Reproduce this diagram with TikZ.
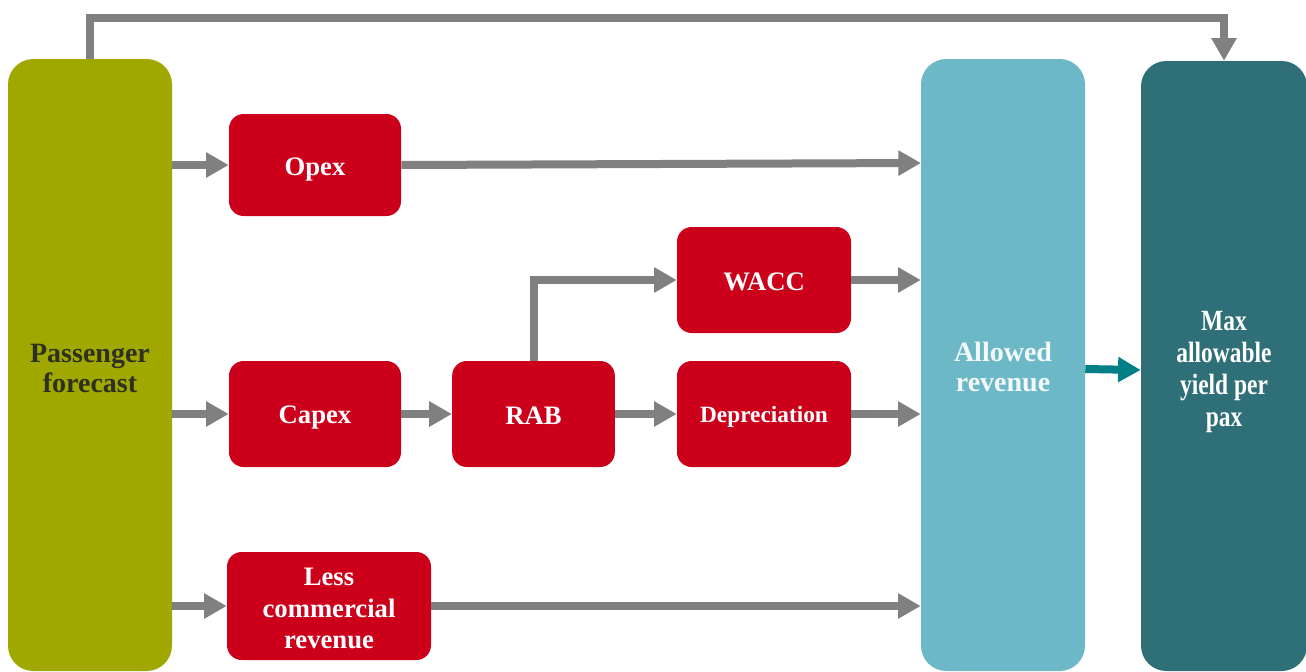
\documentclass[tikz,border=0pt]{standalone}
\usepackage{fontspec}
\setmainfont{Liberation Serif}
\newfontfamily\condfont[FakeStretch=0.8]{Liberation Serif}
\usetikzlibrary{arrows.meta,calc}
\definecolor{olive}{HTML}{A0A800}
\definecolor{redbox}{HTML}{CC001B}
\definecolor{lightblue}{HTML}{6CB8C6}
\definecolor{darkteal}{HTML}{2F6F78}
\definecolor{arrowgray}{HTML}{808080}
\definecolor{tealarrow}{HTML}{007F86}
\definecolor{pftext}{HTML}{2E3020}
\begin{document}
\begin{tikzpicture}[x=0.75pt,y=-0.75pt,
  bigbox/.style={rectangle,rounded corners=19pt,inner sep=0pt,minimum width=123pt},
  bigtext/.style={inner sep=0pt,align=center,font=\bfseries\fontsize{21}{22.5}\selectfont},
  redstep/.style={rectangle,rounded corners=11pt,fill=redbox,inner sep=0pt},
  redtext/.style={inner sep=0pt,text=white,align=center,font=\bfseries\fontsize{20}{23.5}\selectfont},
  flow/.style={draw=arrowgray,line width=6pt,-{Triangle[length=17pt,width=18pt]}},
  tflow/.style={draw=tealarrow,line width=6pt,-{Triangle[length=17pt,width=18pt]}}]
\useasboundingbox (0,0) rectangle (1306,671);
% big columns
\node[bigbox,fill=olive,minimum height=459pt] (pf) at (90,365) {};
\node[bigbox,fill=lightblue,minimum height=459pt] (ar) at (1003,365) {};
\node[bigbox,fill=darkteal,minimum height=457.5pt,minimum width=124.5pt] (mx) at (1224,366) {};
\node[bigtext,text=pftext] (pft) at ($(pf.center)+(0,3)$) {Passenger\\forecast};
\node[bigtext,text=white!92!lightblue] (art) at ($(ar.center)+(0,2)$) {Allowed\\revenue};
\node[bigtext,text=white,font=\condfont\bfseries\fontsize{22}{24}\selectfont] (mxt) at ($(mx.center)+(0,6)$) {Max\\allowable\\yield per\\pax};
% red boxes
\node[redstep,minimum width=129pt,minimum height=76.5pt] (opex) at (315,165) {};
\node[redstep,minimum width=130.5pt,minimum height=79.5pt] (wacc) at (764,280) {};
\node[redstep,minimum width=129pt,minimum height=79.5pt] (capex) at (315,414) {};
\node[redstep,minimum width=122pt,minimum height=79.5pt] (rab) at (533.5,414) {};
\node[redstep,minimum width=130.5pt,minimum height=79.5pt] (dep) at (764,414) {};
\node[redstep,minimum width=153pt,minimum height=81pt] (lcr) at (329,606) {};
\node[redtext] (opext) at ($(opex.center)+(0,5)$) {Opex};
\node[redtext] (wacct) at ($(wacc.center)+(0,2)$) {WACC};
\node[redtext] (capext) at ($(capex.center)+(0,4)$) {Capex};
\node[redtext] (rabt) at ($(rab.center)+(0,2)$) {RAB};
\node[redtext,font=\bfseries\fontsize{17.5}{20}\selectfont] (dept) at ($(dep.center)+(0,3)$) {Depreciation};
\node[redtext] (lcrt) at ($(lcr.center)+(0,2.5)$) {Less\\commercial\\revenue};
% connectors
\coordinate (top) at (1224,18);
\coordinate (aro) at (921,163);
\draw[flow] (pf.north) |- (top) -- (mx.north);
\draw[flow] (pf.east |- opex.west) -- (opex.west);
\draw[flow] (opex.east) -- (aro);
\draw[flow] (pf.east |- capex.west) -- (capex.west);
\draw[flow] (capex.east) -- (rab.west);
\draw[flow] (rab.east) -- (dep.west);
\draw[flow] (dep.east) -- (ar.west |- dep.east);
\draw[flow] (rab.north) |- (wacc.west);
\draw[flow] (wacc.east) -- (ar.west |- wacc.east);
\draw[flow] (pf.east |- lcr.west) -- (lcr.west);
\draw[flow] (lcr.east) -- (ar.west |- lcr.east);
\draw[tflow] ([yshift=-3pt]ar.east) -- ([yshift=-3pt]mx.west);
\end{tikzpicture}
\end{document}
